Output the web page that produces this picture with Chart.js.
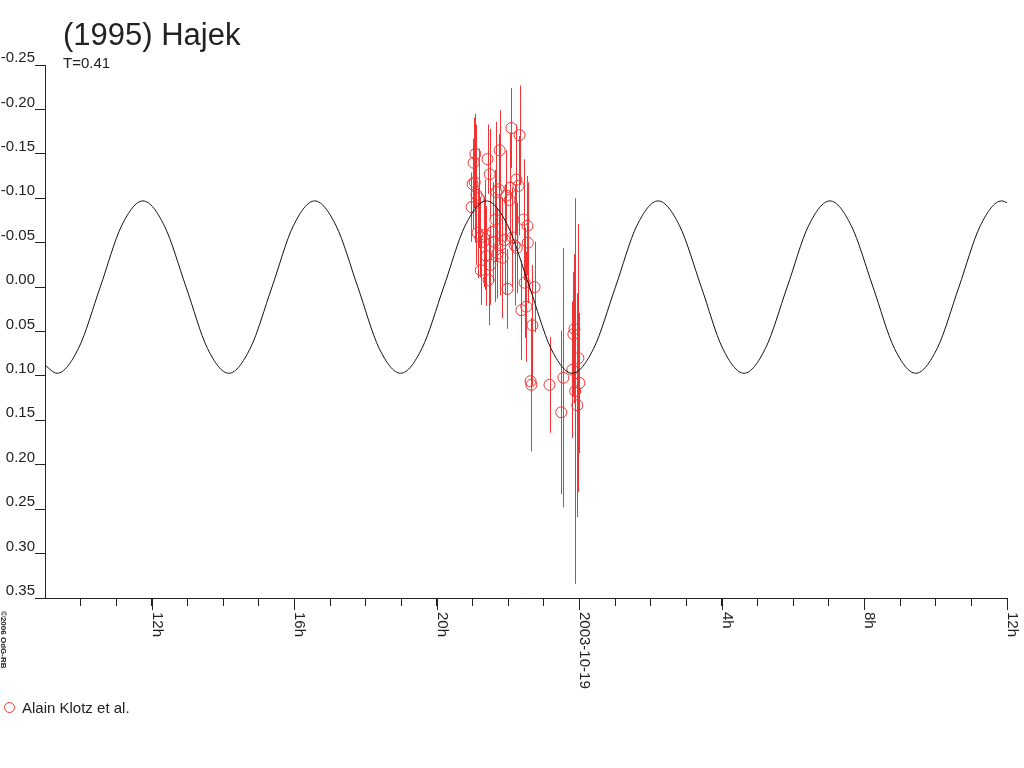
<!DOCTYPE html>
<html>
<head>
<meta charset="utf-8">
<title>(1995) Hajek</title>
<script src="https://cdn.jsdelivr.net/npm/chart.js@4.4.1/dist/chart.umd.min.js"></script>
<style>
    body { margin: 0; background: #fff; }
    #chart-box { width: 1024px; height: 768px; }
</style>
</head>
<body>
<div id="chart-box"><canvas id="lightcurve" width="1024" height="768"></canvas></div>
<script>
// texts
const chartTitle = "(1995) Hajek";
const chartSubtitle = "T=0.41";
const legendLabel = "Alain Klotz et al.";
const copyrightText = "©2006 OdG-RB";

// x axis, hours counted from 2003-10-18 0h
const xMin = 9;
const xMax = 36;
const xLabelValues = [12, 16, 20, 24, 28, 32, 36];
const xLabels = ["12h", "16h", "20h", "2003-10-19", "4h", "8h", "12h"];

// y axis (magnitude, bright at top)
const yMin = -0.25;
const yMax = 0.35;
const yStep = 0.05;

// observations (Alain Klotz et al.)
const obsTimes = [20.97, 21.00, 21.03, 21.06, 21.08, 21.11, 21.14, 21.17, 21.22, 21.23,
    21.31, 21.36, 21.39, 21.42, 21.45, 21.48, 21.50, 21.56, 21.62, 21.64,
    21.67, 21.70, 21.73, 21.76, 21.78, 21.84, 21.90, 21.95, 21.98, 22.04,
    22.06, 22.09, 22.12, 22.18, 22.23, 22.24, 22.29, 22.32, 22.37, 22.43,
    22.46, 22.51, 22.54, 22.55, 22.63, 22.65, 22.68, 22.74, 23.16, 23.49,
    23.55, 23.80, 23.83, 23.86, 23.88, 23.94, 23.97, 24.00];
const obsMags = [-0.090, -0.116, -0.140, -0.118, -0.150, -0.104, -0.061, -0.100, -0.056, -0.019,
    -0.051, -0.059, -0.035, -0.144, -0.008, -0.127, -0.025, -0.062, -0.051, -0.076,
    -0.107, -0.038, -0.110, -0.154, -0.047, -0.033, -0.053, -0.103, 0.002, -0.098,
    -0.112, -0.179, -0.056, -0.047, -0.121, -0.044, -0.114, -0.171, 0.026, -0.076,
    -0.005, 0.022, -0.069, -0.050, 0.106, 0.110, 0.043, 0.000, 0.110, 0.141,
    0.102, 0.093, 0.053, 0.047, 0.117, 0.133, 0.080, 0.108];
const obsErrors = [0.039, 0.051, 0.051, 0.068, 0.045, 0.079, 0.051, 0.056, 0.045, 0.039,
    0.051, 0.062, 0.056, 0.039, 0.051, 0.051, 0.045, 0.056, 0.068, 0.056,
    0.079, 0.051, 0.062, 0.045, 0.056, 0.068, 0.062, 0.051, 0.045, 0.051,
    0.062, 0.045, 0.056, 0.068, 0.062, 0.051, 0.056, 0.056, 0.056, 0.068,
    0.062, 0.062, 0.056, 0.068, 0.062, 0.075, 0.068, 0.051, 0.054, 0.092,
    0.146, 0.077, 0.070, 0.084, 0.217, 0.126, 0.151, 0.079];

// model light curve
const modelTimes = [9.00, 9.34, 9.94, 10.55, 11.15, 11.75, 12.35, 12.96, 13.56, 14.16,
    14.76, 15.37, 15.97, 16.57, 17.17, 17.78, 18.38, 18.98, 19.58, 20.19,
    20.79, 21.39, 21.99, 22.60, 23.20, 23.80, 24.40, 25.01, 25.61, 26.21,
    26.81, 27.42, 28.02, 28.62, 29.22, 29.83, 30.43, 31.03, 31.63, 32.24,
    32.84, 33.44, 34.04, 34.65, 35.25, 35.85, 36.00];
const modelMags = [0.088, 0.097, 0.069, 0.000, -0.069, -0.097, -0.069, 0.000, 0.069, 0.097,
    0.069, 0.000, -0.069, -0.097, -0.069, 0.000, 0.069, 0.097, 0.069, 0.000,
    -0.069, -0.097, -0.069, 0.000, 0.069, 0.097, 0.069, 0.000, -0.069, -0.097,
    -0.069, 0.000, 0.069, 0.097, 0.069, 0.000, -0.069, -0.097, -0.069, 0.000,
    0.069, 0.097, 0.069, 0.000, -0.069, -0.097, -0.095];

// style
const fontFamily = '"Liberation Sans", Arial, sans-serif';
const textColor = "#222";
const axisColor = "#222";
const obsColor = "#f23333";

const canvas = document.getElementById("lightcurve");

// vertical error bars under the circles
const errorBars = {
    id: "errorBars",
    beforeDatasetsDraw(chart) {
        const ctx = chart.ctx;
        const xs = chart.scales.x;
        const ys = chart.scales.y;
        ctx.save();
        ctx.strokeStyle = obsColor;
        ctx.lineWidth = 1;
        ctx.beginPath();
        for (let i = 0; i < obsTimes.length; i++) {
            const px = Math.round(xs.getPixelForValue(obsTimes[i])) + 0.5;
            ctx.moveTo(px, ys.getPixelForValue(obsMags[i] - obsErrors[i]));
            ctx.lineTo(px, ys.getPixelForValue(obsMags[i] + obsErrors[i]));
        }
        ctx.stroke();
        ctx.restore();
    }
};

// title, rotated time labels, legend, copyright
const decorations = {
    id: "decorations",
    afterDraw(chart) {
        const ctx = chart.ctx;
        const xs = chart.scales.x;
        const bottom = chart.chartArea.bottom;
        ctx.save();
        ctx.fillStyle = textColor;
        ctx.textBaseline = "alphabetic";
        ctx.textAlign = "left";
        ctx.font = "31px " + fontFamily;
        ctx.fillText(chartTitle, 63, 45);
        ctx.font = "15px " + fontFamily;
        ctx.fillText(chartSubtitle, 63, 68);

        // longer ticks at the labelled hours
        ctx.strokeStyle = axisColor;
        ctx.lineWidth = 1;
        ctx.beginPath();
        xLabelValues.forEach(v => {
            const px = Math.round(xs.getPixelForValue(v)) + 0.5;
            ctx.moveTo(px, bottom);
            ctx.lineTo(px, bottom + 12);
        });
        ctx.stroke();

        // labels turned clockwise
        xLabelValues.forEach((v, i) => {
            const px = xs.getPixelForValue(v);
            ctx.save();
            ctx.translate(px + 1, bottom + 14);
            ctx.rotate(Math.PI / 2);
            ctx.fillText(xLabels[i], 0, 0);
            ctx.restore();
        });

        // legend
        ctx.strokeStyle = obsColor;
        ctx.beginPath();
        ctx.arc(9.5, 707.5, 5, 0, Math.PI * 2);
        ctx.stroke();
        ctx.fillStyle = textColor;
        ctx.font = "15px " + fontFamily;
        ctx.fillText(legendLabel, 22, 713);

        // copyright
        ctx.save();
        ctx.translate(1, 611);
        ctx.rotate(Math.PI / 2);
        ctx.font = "bold 8px " + fontFamily;
        ctx.fillText(copyrightText, 0, 0);
        ctx.restore();

        ctx.restore();
    }
};

new Chart(canvas, {
    type: "line",
    data: {
        datasets: [{
            label: "model",
            data: modelTimes.map((t, i) => ({ x: t, y: modelMags[i] })),
            borderColor: "#111",
            borderWidth: 1,
            pointRadius: 0,
            fill: false,
            cubicInterpolationMode: "monotone"
        }, {
            label: legendLabel,
            data: obsTimes.map((t, i) => ({ x: t, y: obsMags[i] })),
            showLine: false,
            pointStyle: "circle",
            pointRadius: 5.5,
            pointBorderWidth: 1,
            pointBorderColor: obsColor,
            pointBackgroundColor: "rgba(0,0,0,0)"
        }]
    },
    options: {
        responsive: false,
        animation: false,
        devicePixelRatio: 1,
        layout: { padding: { top: 65, right: 17, bottom: 0, left: 0 } },
        plugins: {
            legend: { display: false },
            tooltip: { enabled: false },
            title: { display: false }
        },
        scales: {
            x: {
                type: "linear",
                min: xMin,
                max: xMax,
                ticks: { stepSize: 1, autoSkip: false, callback: () => "" },
                grid: {
                    drawOnChartArea: false,
                    tickLength: 8,
                    color: c => (c.tick && c.tick.value === xMin) ? "rgba(0,0,0,0)" : axisColor
                },
                border: { color: axisColor, width: 1 },
                afterFit: s => { s.height = 170; }
            },
            y: {
                type: "linear",
                reverse: true,
                min: yMin,
                max: yMax,
                ticks: {
                    stepSize: yStep,
                    padding: 0,
                    labelOffset: -7,
                    color: textColor,
                    font: { family: fontFamily, size: 15 },
                    callback: v => (Math.abs(v) < 1e-9 ? 0 : v).toFixed(2)
                },
                grid: { drawOnChartArea: false, tickLength: 10, color: axisColor },
                border: { color: axisColor, width: 1 },
                afterFit: s => { s.height = s.height; s.width = 45; }
            }
        }
    },
    plugins: [errorBars, decorations]
});
</script>
</body>
</html>
